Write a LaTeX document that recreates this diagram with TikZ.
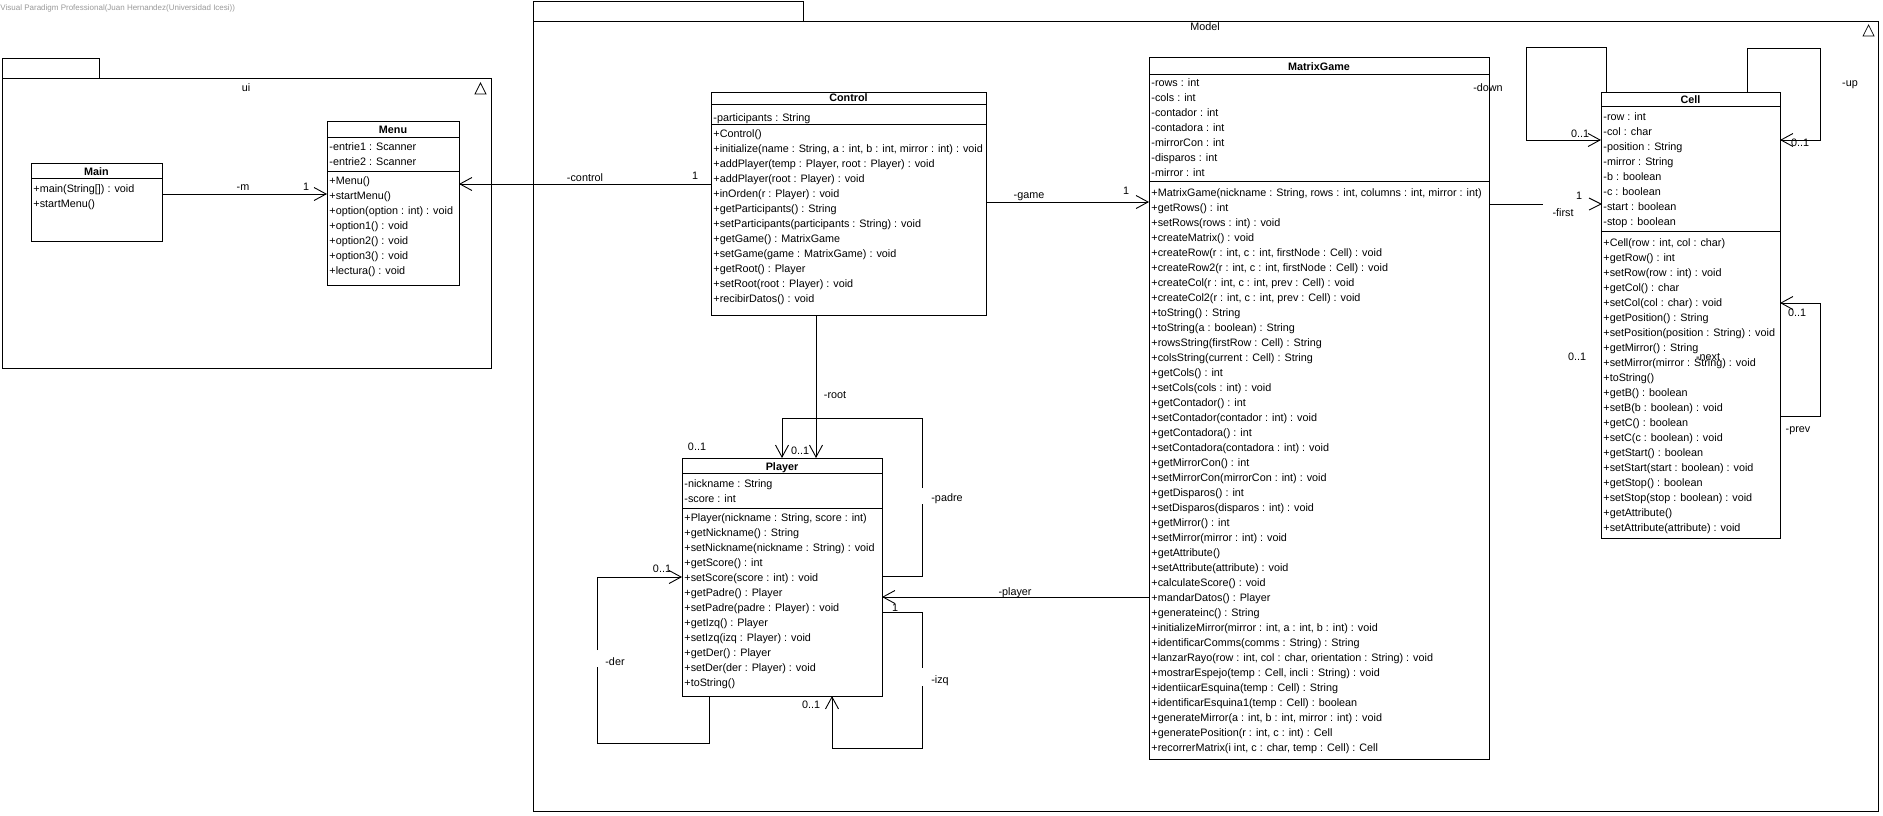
\documentclass[tikz,border=0pt]{standalone}
\usepackage{fontspec}
\setmainfont{Liberation Sans}
\usetikzlibrary{arrows.meta}
\tikzset{
  cbox/.style n args={2}{draw, inner sep=0pt, outer sep=0pt, anchor=north west, minimum width=#1, minimum height=#2},
  mem/.style={anchor=base west, inner sep=0pt, font=\fontsize{10.8}{13}\selectfont},
  ttl/.style={anchor=base, inner sep=0pt, font=\fontsize{10.8}{13}\selectfont\bfseries},
  lbl/.style={anchor=base, inner sep=0pt, font=\fontsize{10.8}{13}\selectfont},
  va/.style={-{Straight Barb[length=12pt,width=13pt]}},
  pkg/.style={draw},
}
\begin{document}
\begin{tikzpicture}[x=1pt,y=-1pt,line width=0.9pt]
\useasboundingbox (0,0) rectangle (1883,815);
% watermark
\node[anchor=base west, inner sep=0pt, font=\fontsize{8}{9}\selectfont, text=black!40] (wm) at (0,10) {Visual Paradigm Professional(Juan Hernandez(Universidad Icesi))};
% packages
\draw[pkg] (2,58) rectangle (99,78);
\draw[pkg] (2,78) rectangle (491,368);
\node[lbl] (uilbl) at (246,91) {ui};
\draw[line width=0.7pt] (475,94) -- (486,94) -- (480.5,83) -- cycle;
\draw[pkg] (533,1) rectangle (803,21);
\draw[pkg] (533,21) rectangle (1878,811);
\node[lbl] (modellbl) at (1205,30) {Model};
\draw[line width=0.7pt] (1863,36) -- (1874,36) -- (1868.5,25) -- cycle;

% Main
\node[cbox={131}{78}] (main) at (31,163) {};
\draw (main.west |- 0,178) -- (main.east |- 0,178);
\node[ttl] (main-t) at (96.5,175) {Main};
\foreach \txt [count=\i from 0] in {{+main(String[]) : void},{+startMenu()}}
  \node[mem] (main-m\i) at (33,192+15*\i) {\txt};

% Menu
\node[cbox={132}{164}] (menu) at (327,121) {};
\draw (menu.west |- 0,137) -- (menu.east |- 0,137);
\draw (menu.west |- 0,171) -- (menu.east |- 0,171);
\node[ttl] (menu-t) at (393,133) {Menu};
\foreach \txt [count=\i from 0] in {{-entrie1 : Scanner},{-entrie2 : Scanner}}
  \node[mem] (menu-a\i) at (329,150+15*\i) {\txt};
\foreach \txt [count=\i from 0] in {{+Menu()},{+startMenu()},{+option(option : int) : void},{+option1() : void},{+option2() : void},{+option3() : void},{+lectura() : void}}
  \node[mem] (menu-m\i) at (329,184+15*\i) {\txt};

% Control
\node[cbox={275}{223}] (ctrl) at (711,92) {};
\draw (ctrl.west |- 0,104) -- (ctrl.east |- 0,104);
\draw (ctrl.west |- 0,124) -- (ctrl.east |- 0,124);
\node[ttl] (ctrl-t) at (848.5,101) {Control};
\node[mem] (ctrl-a0) at (713,121) {-participants : String};
\foreach \txt [count=\i from 0] in {{+Control()},{+initialize(name : String, a : int, b : int, mirror : int) : void},{+addPlayer(temp : Player, root : Player) : void},{+addPlayer(root : Player) : void},{+inOrden(r : Player) : void},{+getParticipants() : String},{+setParticipants(participants : String) : void},{+getGame() : MatrixGame},{+setGame(game : MatrixGame) : void},{+getRoot() : Player},{+setRoot(root : Player) : void},{+recibirDatos() : void}}
  \node[mem] (ctrl-m\i) at (713,137+15*\i) {\txt};

% MatrixGame
\node[cbox={340}{702}] (mg) at (1149,57) {};
\draw (mg.west |- 0,74) -- (mg.east |- 0,74);
\draw (mg.west |- 0,181) -- (mg.east |- 0,181);
\node[ttl] (mg-t) at (1319,70) {MatrixGame};
\foreach \txt [count=\i from 0] in {{-rows : int},{-cols : int},{-contador : int},{-contadora : int},{-mirrorCon : int},{-disparos : int},{-mirror : int}}
  \node[mem] (mg-a\i) at (1151,86+15*\i) {\txt};
\foreach \txt [count=\i from 0] in {{+MatrixGame(nickname : String, rows : int, columns : int, mirror : int)},{+getRows() : int},{+setRows(rows : int) : void},{+createMatrix() : void},{+createRow(r : int, c : int, firstNode : Cell) : void},{+createRow2(r : int, c : int, firstNode : Cell) : void},{+createCol(r : int, c : int, prev : Cell) : void},{+createCol2(r : int, c : int, prev : Cell) : void},{+toString() : String},{+toString(a : boolean) : String},{+rowsString(firstRow : Cell) : String},{+colsString(current : Cell) : String},{+getCols() : int},{+setCols(cols : int) : void},{+getContador() : int},{+setContador(contador : int) : void},{+getContadora() : int},{+setContadora(contadora : int) : void},{+getMirrorCon() : int},{+setMirrorCon(mirrorCon : int) : void},{+getDisparos() : int},{+setDisparos(disparos : int) : void},{+getMirror() : int},{+setMirror(mirror : int) : void},{+getAttribute()},{+setAttribute(attribute) : void},{+calculateScore() : void},{+mandarDatos() : Player},{+generateinc() : String},{+initializeMirror(mirror : int, a : int, b : int) : void},{+identificarComms(comms : String) : String},{+lanzarRayo(row : int, col : char, orientation : String) : void},{+mostrarEspejo(temp : Cell, incli : String) : void},{+identiicarEsquina(temp : Cell) : String},{+identificarEsquina1(temp : Cell) : boolean},{+generateMirror(a : int, b : int, mirror : int) : void},{+generatePosition(r : int, c : int) : Cell},{+recorrerMatrix(i int, c : char, temp : Cell) : Cell}}
  \node[mem] (mg-m\i) at (1151,196+15*\i) {\txt};

% Player
\node[cbox={200}{238}] (player) at (682,458) {};
\draw (player.west |- 0,473) -- (player.east |- 0,473);
\draw (player.west |- 0,508) -- (player.east |- 0,508);
\node[ttl] (player-t) at (782,470) {Player};
\foreach \txt [count=\i from 0] in {{-nickname : String},{-score : int}}
  \node[mem] (player-a\i) at (684,487+15*\i) {\txt};
\foreach \txt [count=\i from 0] in {{+Player(nickname : String, score : int)},{+getNickname() : String},{+setNickname(nickname : String) : void},{+getScore() : int},{+setScore(score : int) : void},{+getPadre() : Player},{+setPadre(padre : Player) : void},{+getIzq() : Player},{+setIzq(izq : Player) : void},{+getDer() : Player},{+setDer(der : Player) : void},{+toString()}}
  \node[mem] (player-m\i) at (684,521+15*\i) {\txt};

% Cell
\node[cbox={179}{446}] (cell) at (1601,92) {};
\draw (cell.west |- 0,106) -- (cell.east |- 0,106);
\draw (cell.west |- 0,231) -- (cell.east |- 0,231);
\node[ttl] (cell-t) at (1690.5,103) {Cell};
\foreach \txt [count=\i from 0] in {{-row : int},{-col : char},{-position : String},{-mirror : String},{-b : boolean},{-c : boolean},{-start : boolean},{-stop : boolean}}
  \node[mem] (cell-a\i) at (1603,120+15*\i) {\txt};
\foreach \txt [count=\i from 0] in {{+Cell(row : int, col : char)},{+getRow() : int},{+setRow(row : int) : void},{+getCol() : char},{+setCol(col : char) : void},{+getPosition() : String},{+setPosition(position : String) : void},{+getMirror() : String},{+setMirror(mirror : String) : void},{+toString()},{+getB() : boolean},{+setB(b : boolean) : void},{+getC() : boolean},{+setC(c : boolean) : void},{+getStart() : boolean},{+setStart(start : boolean) : void},{+getStop() : boolean},{+setStop(stop : boolean) : void},{+getAttribute()},{+setAttribute(attribute) : void}}
  \node[mem] (cell-m\i) at (1603,246+15*\i) {\txt};

% connectors
\draw[va] (main.east |- 0,194) -- (menu.west |- 0,194);
\node[lbl] (l-m) at (243,190) {-m};
\node[lbl] (l-m1) at (306,190) {1};

\draw[va] (ctrl.west |- 0,184) -- (menu.east |- 0,184);
\node[lbl] (l-ctrl) at (585,181) {-control};
\node[lbl] (l-ctrl1) at (695,179) {1};

\draw[va] (ctrl.east |- 0,202) -- (mg.west |- 0,202);
\node[lbl] (l-game) at (1029,198) {-game};
\node[lbl] (l-game1) at (1126,194) {1};

\draw[va] (ctrl.south -| 816,0) -- (player.north -| 816,0);
\node[lbl] (l-root) at (835,398) {-root};
\node[lbl] (l-root1) at (800,454) {0..1};
\node[lbl] (l-pl01) at (697,450) {0..1};

% padre loop
\draw (player.east |- 0,576) -| (922,504);
\draw[va] (922,488) |- (782,418) -- (player.north -| 782,0);
\node[lbl] (l-padre) at (947,501) {-padre};

% izq loop
\draw (player.east |- 0,612) -| (922,668);
\draw[va] (922,686) |- (832,748) -- (player.south -| 832,0);
\node[lbl] (l-izq) at (940,683) {-izq};
\node[lbl] (l-izq1) at (811,708) {0..1};

% der loop
\draw (player.south -| 709,0) |- (597,743) -- (597,667);
\draw[va] (597,650) |- (player.west |- 0,577);
\node[lbl] (l-der) at (615,665) {-der};
\node[lbl] (l-der1) at (662,572) {0..1};

% player
\draw[va] (mg.west |- 0,597) -- (player.east |- 0,597);
\node[lbl] (l-player) at (1015,595) {-player};
\node[lbl] (l-player1) at (895,611) {1};

% first
\draw (mg.east |- 0,204) -- (1543,204);
\draw (1589,198) -- (cell.west |- 0,204) -- (1589,210);
\node[lbl] (l-first) at (1563,216) {-first};
\node[lbl] (l-first1) at (1579,199) {1};

% down loop
\draw[va] (cell.north -| 1606,0) |- (1526,47) |- (cell.west |- 0,140);
\node[lbl] (l-down) at (1488,91) {-down};
\node[lbl] (l-down1) at (1580,137) {0..1};

% up loop
\draw[va] (cell.north -| 1747,0) |- (1820,48) |- (cell.east |- 0,140);
\node[lbl] (l-up) at (1850,86) {-up};
\node[lbl] (l-up1) at (1800,146) {0..1};

% next/prev loop
\draw[va] (cell.east |- 0,416) -| (1820,303) -- (cell.east |- 0,303);
\node[lbl] (l-prev) at (1798,432) {-prev};
\node[lbl] (l-prev1) at (1797,316) {0..1};
\node[lbl] (l-next) at (1708,360) {-next};
\node[lbl] (l-next1) at (1577,360) {0..1};
\end{tikzpicture}
\end{document}
